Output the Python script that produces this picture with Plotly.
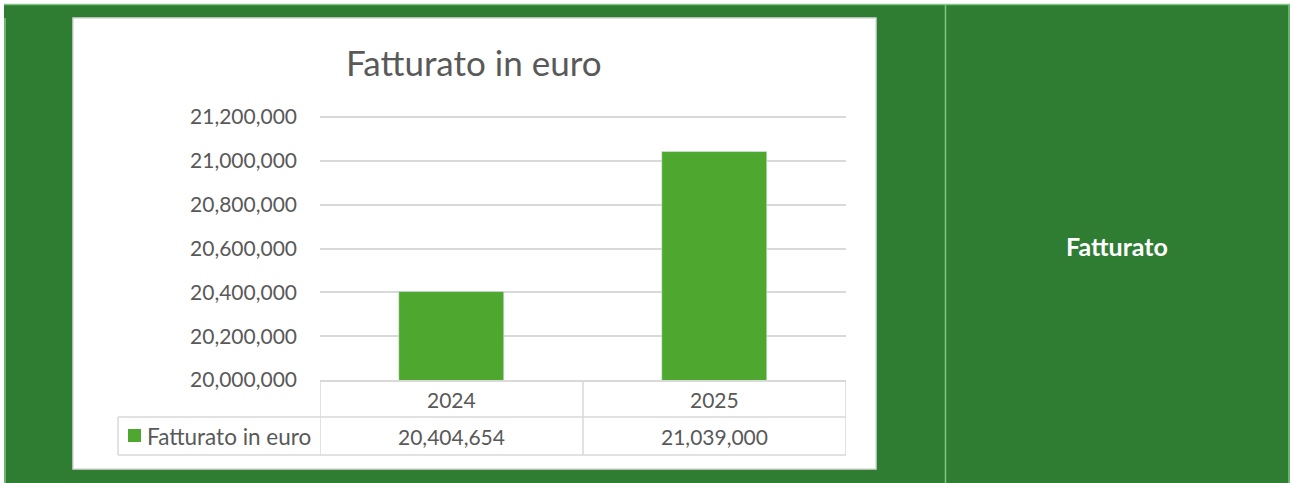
import plotly.graph_objects as go

years = ["2024", "2025"]
fatturato = [20404654, 21039000]
series_name = "Fatturato in euro"
chart_title = "Fatturato in euro"
side_label = "Fatturato"

W, H = 1290, 483
DARK = "#2E7D32"
LIGHT = "#81C784"
BAR = "#4EA72E"
TXT = "#595959"
GRID = "#D9D9D9"
FONT = "Lato, 'Open Sans', sans-serif"

def px(x):
    return x / W

def py(y):
    return 1 - y / H

fig = go.Figure()
fig.add_trace(go.Bar(x=[0, 1], y=fatturato, width=0.4, marker_color=BAR,
                     name=series_name, showlegend=False, hoverinfo="skip"))

shapes = []
# green background panel
shapes.append(dict(type="rect", xref="paper", yref="paper", x0=px(4), x1=px(1290), y0=py(483), y1=py(4),
                   fillcolor=DARK, line=dict(width=0), layer="below"))
# light green frame lines
for (x0, y0, x1, y1) in [(4, 4.5, 1290, 4.5), (5, 18, 5, 483), (1289, 4, 1289, 483), (945.5, 4, 945.5, 483)]:
    shapes.append(dict(type="line", xref="paper", yref="paper", x0=px(x0), x1=px(x1), y0=py(y0), y1=py(y1),
                       line=dict(color=LIGHT, width=1.5), layer="below"))
# white chart box
shapes.append(dict(type="rect", xref="paper", yref="paper", x0=px(73), x1=px(876), y0=py(469), y1=py(18),
                   fillcolor="white", line=dict(color=GRID, width=1.5), layer="below"))

# data table lines
for yy in [417, 455]:
    shapes.append(dict(type="line", xref="paper", yref="paper", x0=px(118), x1=px(846), y0=py(yy), y1=py(yy),
                       line=dict(color=GRID, width=1.5)))
shapes.append(dict(type="line", xref="paper", yref="paper", x0=px(118), x1=px(118), y0=py(417), y1=py(455),
                   line=dict(color=GRID, width=1.5)))
for xv in [-0.5, 0.5, 1.5]:
    shapes.append(dict(type="line", xref="x", yref="paper", x0=xv, x1=xv, y0=py(380), y1=py(455),
                       line=dict(color=GRID, width=1.5)))
# legend key
shapes.append(dict(type="rect", xref="paper", yref="paper", x0=px(128), x1=px(141), y0=py(442), y1=py(429),
                   fillcolor=BAR, line=dict(width=0)))

annotations = []
annotations.append(dict(text=chart_title, xref="paper", yref="paper", x=px(474), y=py(62),
                        showarrow=False, font=dict(family=FONT, size=35, color=TXT), xanchor="center", yanchor="middle"))
for i, (yr, v) in enumerate(zip(years, fatturato)):
    annotations.append(dict(text=yr, xref="x", yref="paper", x=i, y=py(399), showarrow=False,
                            font=dict(family=FONT, size=21, color=TXT), xanchor="center", yanchor="middle"))
    annotations.append(dict(text=f"{v:,}", xref="x", yref="paper", x=i, y=py(436), showarrow=False,
                            font=dict(family=FONT, size=21, color=TXT), xanchor="center", yanchor="middle"))
annotations.append(dict(text=series_name, xref="paper", yref="paper", x=px(145), y=py(436), showarrow=False,
                        font=dict(family=FONT, size=22.5, color=TXT), xanchor="left", yanchor="middle"))
annotations.append(dict(text=f"<b>{side_label}</b>", xref="paper", yref="paper", x=px(1117), y=py(246), showarrow=False,
                        font=dict(family=FONT, size=25, color="white"), xanchor="center", yanchor="middle"))

fig.update_layout(
    width=W, height=H,
    margin=dict(l=0, r=0, t=0, b=0, pad=0, autoexpand=False),
    paper_bgcolor="white",
    plot_bgcolor="rgba(0,0,0,0)",
    shapes=shapes,
    annotations=annotations,
    showlegend=False,
    xaxis=dict(domain=[px(320), px(846)], range=[-0.5, 1.5], showticklabels=False, showgrid=False,
               zeroline=False, showline=True, linecolor=GRID, linewidth=1.5, fixedrange=True,
               automargin=False),
    yaxis=dict(domain=[py(380), py(114.8)], range=[20000000, 21210000], tickvals=[20000000 + 200000 * k for k in range(7)],
               tickformat=",",
               showgrid=True, gridcolor=GRID, gridwidth=1.5, zeroline=False, showline=False,
               ticks="", ticklabelstandoff=22, automargin=False,
               tickfont=dict(family=FONT, size=21, color=TXT), fixedrange=True),
    bargap=0,
)

fig.write_html("out.html")
